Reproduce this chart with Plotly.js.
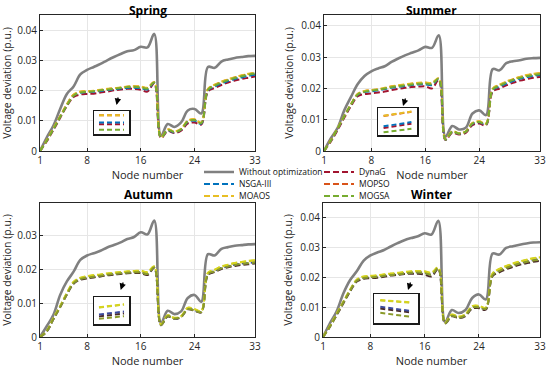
<!DOCTYPE html>
<html>
<head>
<meta charset="utf-8">
<script src="https://cdn.plot.ly/plotly-3.0.1.min.js"></script>
<style>html,body{margin:0;padding:0;background:#fff}#chart{width:550px;height:371px}</style>
</head>
<body>
<div id="chart"></div>
<script>
// ---------- data ----------
const nodes = [1,2,3,4,5,6,7,8,9,10,11,12,13,14,15,16,17,18,19,20,21,22,23,24,25,26,27,28,29,30,31,32,33];
const xTicks = [1, 8, 16, 24, 33];
const yTicks = [0, 0.01, 0.02, 0.03, 0.04];
const yTickText = ['0', '0.01', '0.02', '0.03', '0.04'];
const seasons = ['Spring', 'Summer', 'Autumn', 'Winter'];
const seriesNames = ['Without optimization', 'DynaG', 'NSGA-III', 'MOPSO', 'MOAOS', 'MOGSA'];

// Spring
const springWithout = [0,0.0045,0.0085,0.0140,0.0190,0.0215,0.0255,0.0270,0.0280,0.0290,0.0302,0.0313,0.0323,0.0332,0.0336,0.0347,0.0345,0.0390,0.0050,0.0090,0.0080,0.0095,0.0135,0.0140,0.0125,0.0280,0.0277,0.0298,0.0305,0.0310,0.0313,0.0316,0.0317];
const springDynaG = [0,0.0032,0.0070,0.0110,0.0150,0.0180,0.0188,0.0190,0.0191,0.0195,0.0198,0.0202,0.0205,0.0207,0.0207,0.0204,0.0198,0.0225,0.0043,0.0066,0.0060,0.0068,0.0092,0.0095,0.0088,0.0198,0.0210,0.0220,0.0228,0.0235,0.0240,0.0244,0.0248];
const springNSGA = [0,0.0035,0.0074,0.0114,0.0153,0.0185,0.0194,0.0196,0.0197,0.0200,0.0203,0.0205,0.0208,0.0210,0.0211,0.0209,0.0205,0.0227,0.0045,0.0069,0.0062,0.0071,0.0097,0.0101,0.0091,0.0202,0.0215,0.0225,0.0233,0.0240,0.0245,0.0250,0.0254];
const springMOPSO = [0,0.0036,0.0075,0.0115,0.0155,0.0187,0.0197,0.0199,0.0200,0.0203,0.0206,0.0209,0.0211,0.0214,0.0215,0.0214,0.0210,0.0229,0.0046,0.0071,0.0064,0.0073,0.0100,0.0105,0.0094,0.0206,0.0220,0.0230,0.0238,0.0245,0.0251,0.0256,0.0260];
const springMOAOS = [0,0.0036,0.0076,0.0116,0.0156,0.0188,0.0198,0.0199,0.0201,0.0204,0.0207,0.0209,0.0212,0.0215,0.0216,0.0215,0.0211,0.0230,0.0046,0.0072,0.0065,0.0074,0.0101,0.0106,0.0095,0.0207,0.0221,0.0231,0.0239,0.0246,0.0252,0.0257,0.0261];
const springMOGSA = [0,0.0034,0.0073,0.0113,0.0152,0.0184,0.0195,0.0197,0.0199,0.0202,0.0205,0.0207,0.0210,0.0213,0.0214,0.0212,0.0208,0.0228,0.0045,0.0070,0.0063,0.0072,0.0099,0.0103,0.0093,0.0204,0.0218,0.0228,0.0236,0.0243,0.0249,0.0254,0.0258];

// Summer
const summerWithout = [0,0.0040,0.0073,0.0130,0.0173,0.0214,0.0240,0.0255,0.0264,0.0271,0.0285,0.0296,0.0306,0.0314,0.0322,0.0333,0.0330,0.0370,0.0046,0.0080,0.0069,0.0074,0.0120,0.0130,0.0115,0.0262,0.0258,0.0281,0.0287,0.0290,0.0295,0.0297,0.0298];
const summerDynaG = [0,0.0030,0.0066,0.0106,0.0144,0.0175,0.0182,0.0184,0.0187,0.0190,0.0195,0.0199,0.0202,0.0205,0.0206,0.0207,0.0200,0.0227,0.0035,0.0058,0.0053,0.0058,0.0083,0.0088,0.0082,0.0190,0.0200,0.0210,0.0218,0.0225,0.0230,0.0234,0.0237];
const summerNSGA = [0,0.0033,0.0070,0.0110,0.0148,0.0180,0.0189,0.0191,0.0194,0.0198,0.0202,0.0205,0.0208,0.0211,0.0213,0.0213,0.0211,0.0230,0.0037,0.0061,0.0055,0.0061,0.0087,0.0092,0.0085,0.0195,0.0206,0.0216,0.0224,0.0231,0.0236,0.0240,0.0243];
const summerMOPSO = [0,0.0034,0.0071,0.0111,0.0149,0.0182,0.0191,0.0194,0.0197,0.0201,0.0206,0.0209,0.0212,0.0215,0.0217,0.0218,0.0217,0.0232,0.0038,0.0062,0.0056,0.0062,0.0089,0.0094,0.0087,0.0199,0.0211,0.0221,0.0229,0.0236,0.0242,0.0246,0.0249];
const summerMOAOS = [0,0.0034,0.0072,0.0112,0.0150,0.0183,0.0192,0.0195,0.0198,0.0202,0.0207,0.0210,0.0213,0.0216,0.0218,0.0219,0.0218,0.0233,0.0038,0.0063,0.0057,0.0063,0.0090,0.0095,0.0088,0.0200,0.0212,0.0222,0.0230,0.0237,0.0243,0.0247,0.0250];
const summerMOGSA = [0,0.0033,0.0071,0.0111,0.0149,0.0181,0.0190,0.0193,0.0196,0.0200,0.0204,0.0207,0.0210,0.0213,0.0215,0.0216,0.0214,0.0231,0.0037,0.0062,0.0056,0.0062,0.0088,0.0093,0.0086,0.0197,0.0209,0.0219,0.0227,0.0234,0.0239,0.0243,0.0246];

// Autumn
const autumnWithout = [0,0.0032,0.0066,0.0125,0.0165,0.0194,0.0229,0.0242,0.0249,0.0256,0.0266,0.0273,0.0281,0.0291,0.0297,0.0311,0.0305,0.0346,0.0041,0.0078,0.0068,0.0076,0.0116,0.0125,0.0105,0.0246,0.0242,0.0262,0.0267,0.0271,0.0273,0.0275,0.0276];
const autumnDynaG = [0,0.0016,0.0053,0.0088,0.0126,0.0158,0.0170,0.0174,0.0177,0.0180,0.0183,0.0185,0.0187,0.0189,0.0190,0.0190,0.0184,0.0205,0.0035,0.0061,0.0054,0.0059,0.0082,0.0078,0.0073,0.0184,0.0193,0.0202,0.0207,0.0211,0.0214,0.0216,0.0218];
const autumnNSGA = [0,0.0017,0.0055,0.0090,0.0128,0.0161,0.0173,0.0177,0.0180,0.0183,0.0186,0.0188,0.0190,0.0192,0.0193,0.0193,0.0188,0.0207,0.0036,0.0063,0.0055,0.0060,0.0084,0.0080,0.0075,0.0187,0.0196,0.0205,0.0210,0.0215,0.0218,0.0220,0.0222];
const autumnMOPSO = [0,0.0018,0.0056,0.0091,0.0130,0.0163,0.0175,0.0180,0.0183,0.0185,0.0188,0.0190,0.0192,0.0194,0.0195,0.0196,0.0192,0.0209,0.0037,0.0064,0.0056,0.0061,0.0086,0.0082,0.0076,0.0190,0.0199,0.0209,0.0214,0.0219,0.0222,0.0225,0.0227];
const autumnMOAOS = [0,0.0018,0.0057,0.0092,0.0131,0.0164,0.0176,0.0181,0.0184,0.0186,0.0189,0.0191,0.0193,0.0195,0.0196,0.0197,0.0193,0.0210,0.0038,0.0065,0.0057,0.0062,0.0087,0.0083,0.0077,0.0191,0.0200,0.0210,0.0215,0.0220,0.0223,0.0226,0.0228];
const autumnMOGSA = [0,0.0017,0.0054,0.0089,0.0127,0.0160,0.0172,0.0176,0.0179,0.0182,0.0185,0.0187,0.0189,0.0191,0.0192,0.0192,0.0187,0.0206,0.0036,0.0062,0.0055,0.0060,0.0083,0.0079,0.0074,0.0186,0.0195,0.0204,0.0209,0.0214,0.0217,0.0219,0.0221];

// Winter
const winterWithout = [0,0.0045,0.0085,0.0145,0.0190,0.0220,0.0255,0.0272,0.0282,0.0290,0.0302,0.0313,0.0323,0.0330,0.0336,0.0346,0.0342,0.0388,0.0050,0.0090,0.0080,0.0090,0.0130,0.0142,0.0125,0.0278,0.0275,0.0297,0.0303,0.0308,0.0312,0.0315,0.0316];
const winterDynaG = [0,0.0033,0.0072,0.0112,0.0152,0.0185,0.0194,0.0196,0.0198,0.0201,0.0205,0.0207,0.0210,0.0211,0.0211,0.0208,0.0202,0.0227,0.0045,0.0069,0.0063,0.0070,0.0095,0.0096,0.0091,0.0203,0.0216,0.0226,0.0234,0.0241,0.0246,0.0251,0.0254];
const winterNSGA = [0,0.0035,0.0075,0.0116,0.0156,0.0189,0.0198,0.0200,0.0202,0.0205,0.0208,0.0210,0.0213,0.0215,0.0216,0.0214,0.0209,0.0230,0.0047,0.0072,0.0065,0.0073,0.0099,0.0100,0.0095,0.0208,0.0222,0.0232,0.0240,0.0247,0.0252,0.0257,0.0260];
const winterMOPSO = [0,0.0036,0.0076,0.0117,0.0157,0.0191,0.0201,0.0203,0.0205,0.0208,0.0211,0.0213,0.0216,0.0218,0.0219,0.0218,0.0214,0.0231,0.0048,0.0074,0.0067,0.0075,0.0102,0.0103,0.0097,0.0211,0.0226,0.0236,0.0244,0.0251,0.0257,0.0262,0.0265];
const winterMOAOS = [0,0.0036,0.0077,0.0118,0.0158,0.0192,0.0202,0.0204,0.0206,0.0209,0.0212,0.0214,0.0217,0.0219,0.0220,0.0219,0.0215,0.0232,0.0048,0.0075,0.0068,0.0076,0.0103,0.0104,0.0098,0.0212,0.0227,0.0237,0.0245,0.0252,0.0258,0.0263,0.0266];
const winterMOGSA = [0,0.0034,0.0074,0.0115,0.0155,0.0188,0.0197,0.0199,0.0201,0.0204,0.0207,0.0209,0.0212,0.0214,0.0215,0.0213,0.0208,0.0229,0.0046,0.0071,0.0064,0.0072,0.0098,0.0099,0.0094,0.0206,0.0220,0.0230,0.0238,0.0245,0.0250,0.0255,0.0258];

// zoomed insets (two end points of each zoomed segment)
const insetX = [1, 2];
const springInsetDynaG = [0.02092, 0.02092];
const springInsetNSGA = [0.02100, 0.02100];
const springInsetMOPSO = [0.02131, 0.02131];
const springInsetMOAOS = [0.02132, 0.02132];
const springInsetMOGSA = [0.02069, 0.02069];
const summerInsetDynaG = [0.01926, 0.01942];
const summerInsetNSGA = [0.01932, 0.01948];
const summerInsetMOPSO = [0.01970, 0.01986];
const summerInsetMOAOS = [0.01971, 0.01987];
const summerInsetMOGSA = [0.01910, 0.01923];
const autumnInsetDynaG = [0.01728, 0.01739];
const autumnInsetNSGA = [0.01735, 0.01746];
const autumnInsetMOPSO = [0.01761, 0.01772];
const autumnInsetMOAOS = [0.01762, 0.01773];
const autumnInsetMOGSA = [0.01719, 0.01729];
const winterInsetDynaG = [0.02050, 0.02036];
const winterInsetNSGA = [0.02056, 0.02041];
const winterInsetMOPSO = [0.02078, 0.02070];
const winterInsetMOAOS = [0.02079, 0.02071];
const winterInsetMOGSA = [0.02035, 0.02021];

// ---------- styling ----------
const topPal = {gray:'#808080', DynaG:'#A2142F', NSGA:'#0072BD', MOPSO:'#D95319', MOAOS:'#E8BE24', MOGSA:'#77AC30'};
const botPal = {gray:'#808080', DynaG:'#4a2a2a', NSGA:'#3b4a9c', MOPSO:'#c2c22c', MOAOS:'#d6d41e', MOGSA:'#8a9a2a'};
const FONT = 'Open Sans, Noto Sans, sans-serif';
const DASH = '6px,3px';

const traces = [];
function addSeason(idx, main, inset, pal, legendOn) {
  const xa = 'x' + (idx === 0 ? '' : idx + 1), ya = 'y' + (idx === 0 ? '' : idx + 1);
  const xi = 'x' + (idx + 5), yi = 'y' + (idx + 5);
  const keys = ['DynaG', 'NSGA', 'MOPSO', 'MOAOS', 'MOGSA'];
  const legendOf = {gray:'legend', DynaG:'legend', NSGA:'legend2', MOPSO:'legend2', MOAOS:'legend3', MOGSA:'legend3'};
  traces.push({x: nodes, y: main.gray, xaxis: xa, yaxis: ya, type: 'scatter', mode: 'lines',
    name: seriesNames[0], legend: legendOf.gray, showlegend: legendOn,
    line: {color: pal.gray, width: 2.6, shape: 'spline', smoothing: 1}});
  keys.forEach((k, i) => {
    traces.push({x: nodes, y: main[k], xaxis: xa, yaxis: ya, type: 'scatter', mode: 'lines',
      name: seriesNames[i + 1], legend: legendOf[k], showlegend: legendOn,
      line: {color: pal[k], width: 2, dash: DASH, shape: 'spline', smoothing: 1}});
  });
  keys.forEach((k, i) => {
    traces.push({x: insetX, y: inset[k], xaxis: xi, yaxis: yi, type: 'scatter', mode: 'lines',
      name: seriesNames[i + 1], showlegend: false, hoverinfo: 'skip',
      line: {color: pal[k], width: 2, dash: '5px,3px'}});
  });
}
addSeason(0, {gray: springWithout, DynaG: springDynaG, NSGA: springNSGA, MOPSO: springMOPSO, MOAOS: springMOAOS, MOGSA: springMOGSA},
  {DynaG: springInsetDynaG, NSGA: springInsetNSGA, MOPSO: springInsetMOPSO, MOAOS: springInsetMOAOS, MOGSA: springInsetMOGSA}, topPal, true);
addSeason(1, {gray: summerWithout, DynaG: summerDynaG, NSGA: summerNSGA, MOPSO: summerMOPSO, MOAOS: summerMOAOS, MOGSA: summerMOGSA},
  {DynaG: summerInsetDynaG, NSGA: summerInsetNSGA, MOPSO: summerInsetMOPSO, MOAOS: summerInsetMOAOS, MOGSA: summerInsetMOGSA}, topPal, false);
addSeason(2, {gray: autumnWithout, DynaG: autumnDynaG, NSGA: autumnNSGA, MOPSO: autumnMOPSO, MOAOS: autumnMOAOS, MOGSA: autumnMOGSA},
  {DynaG: autumnInsetDynaG, NSGA: autumnInsetNSGA, MOPSO: autumnInsetMOPSO, MOAOS: autumnInsetMOAOS, MOGSA: autumnInsetMOGSA}, botPal, false);
addSeason(3, {gray: winterWithout, DynaG: winterDynaG, NSGA: winterNSGA, MOPSO: winterMOPSO, MOAOS: winterMOAOS, MOGSA: winterMOGSA},
  {DynaG: winterInsetDynaG, NSGA: winterInsetNSGA, MOPSO: winterInsetMOPSO, MOAOS: winterInsetMOAOS, MOGSA: winterInsetMOGSA}, botPal, false);

const W = 550, H = 371;
const px = v => v / W, py = v => 1 - v / H;

function mainX(d0, d1, anchor) {
  return {domain: [px(d0), px(d1)], anchor: anchor, range: [1, 33], tickvals: xTicks, ticktext: xTicks.map(String),
    showline: true, mirror: true, linecolor: '#262626', linewidth: 1, ticks: 'inside', ticklen: 3,
    tickcolor: '#262626', showgrid: true, gridcolor: '#e6e6e6', zeroline: false,
    tickfont: {family: FONT, size: 10, color: '#262626'},
    title: {text: 'Node number', font: {family: FONT, size: 11, color: '#262626'}, standoff: 3}};
}
function mainY(d0, d1, top, anchor) {
  return {domain: [py(d1), py(d0)], anchor: anchor, range: [0, top], tickvals: yTicks, ticktext: yTickText,
    showline: true, mirror: true, linecolor: '#262626', linewidth: 1, ticks: 'inside', ticklen: 3,
    tickcolor: '#262626', showgrid: true, gridcolor: '#e6e6e6', zeroline: false,
    tickfont: {family: FONT, size: 10, color: '#262626'},
    title: {text: 'Voltage deviation (p.u.)', font: {family: FONT, size: 10.5, color: '#262626'}, standoff: 5}};
}
function insetAx(d0, d1, rng, isY, anchor) {
  return {domain: isY ? [py(d1), py(d0)] : [px(d0), px(d1)], anchor: anchor, range: rng, showline: true, mirror: true,
    linecolor: '#1a1a1a', linewidth: 1.5, ticks: '', showticklabels: false, showgrid: false, zeroline: false};
}

const legFont = {family: FONT, size: 8.5, color: '#111'};
function leg(yPix) {
  return {orientation: 'h', x: px(199), y: py(yPix), xanchor: 'left', yanchor: 'middle', bgcolor: 'rgba(0,0,0,0)',
    entrywidth: 75, font: legFont, itemwidth: 30};
}
const titleFont = {family: FONT, size: 12, color: '#000'};

const layout = {
  width: W, height: H, margin: {l: 0, r: 0, t: 0, b: 0},
  paper_bgcolor: '#fff', plot_bgcolor: '#fff',
  font: {family: FONT, color: '#262626'},
  xaxis: mainX(40, 255, 'y'), yaxis: mainY(15, 151, 0.0453, 'x'),
  xaxis2: mainX(324, 540, 'y2'), yaxis2: mainY(15, 151, 0.0435, 'x2'),
  xaxis3: mainX(40, 255, 'y3'), yaxis3: mainY(203, 337, 0.0398, 'x3'),
  xaxis4: mainX(323, 540, 'y4'), yaxis4: mainY(203, 337, 0.0447, 'x4'),
  xaxis5: insetAx(94, 129, [0.8, 2.2], false, 'y5'), yaxis5: insetAx(111, 134, [0.0205, 0.0215], true, 'x5'),
  xaxis6: insetAx(378, 417, [0.8, 2.2], false, 'y6'), yaxis6: insetAx(108, 135, [0.0190, 0.0200], true, 'x6'),
  xaxis7: insetAx(94, 129, [0.8, 2.2], false, 'y7'), yaxis7: insetAx(297, 324, [0.0170, 0.0180], true, 'x7'),
  xaxis8: insetAx(374, 418, [0.8, 2.2], false, 'y8'), yaxis8: insetAx(294, 323, [0.0200, 0.0210], true, 'x8'),
  showlegend: true,
  legend: leg(172), legend2: leg(184), legend3: leg(196),
  annotations: [
    {text: '<b>' + seasons[0] + '</b>', xref: 'paper', yref: 'paper', x: px(148), y: py(10), xanchor: 'center', yanchor: 'middle', showarrow: false, font: titleFont},
    {text: '<b>' + seasons[1] + '</b>', xref: 'paper', yref: 'paper', x: px(431), y: py(10), xanchor: 'center', yanchor: 'middle', showarrow: false, font: titleFont},
    {text: '<b>' + seasons[2] + '</b>', xref: 'paper', yref: 'paper', x: px(148), y: py(194), xanchor: 'center', yanchor: 'middle', showarrow: false, font: titleFont},
    {text: '<b>' + seasons[3] + '</b>', xref: 'paper', yref: 'paper', x: px(431), y: py(194), xanchor: 'center', yanchor: 'middle', showarrow: false, font: titleFont},
    {text: '', xref: 'paper', yref: 'paper', x: px(116.5), y: py(105), ax: 2, ay: -9, showarrow: true, arrowhead: 2, arrowsize: 1, arrowwidth: 1.3, arrowcolor: '#000'},
    {text: '', xref: 'paper', yref: 'paper', x: px(403), y: py(106), ax: 3, ay: -9, showarrow: true, arrowhead: 2, arrowsize: 1, arrowwidth: 1.3, arrowcolor: '#000'},
    {text: '', xref: 'paper', yref: 'paper', x: px(120.7), y: py(290), ax: 3, ay: -9, showarrow: true, arrowhead: 2, arrowsize: 1, arrowwidth: 1.3, arrowcolor: '#000'},
    {text: '', xref: 'paper', yref: 'paper', x: px(408), y: py(290), ax: 3, ay: -9, showarrow: true, arrowhead: 2, arrowsize: 1, arrowwidth: 1.3, arrowcolor: '#000'}
  ]
};

Plotly.newPlot('chart', traces, layout, {staticPlot: true, displayModeBar: false});
</script>
</body>
</html>
